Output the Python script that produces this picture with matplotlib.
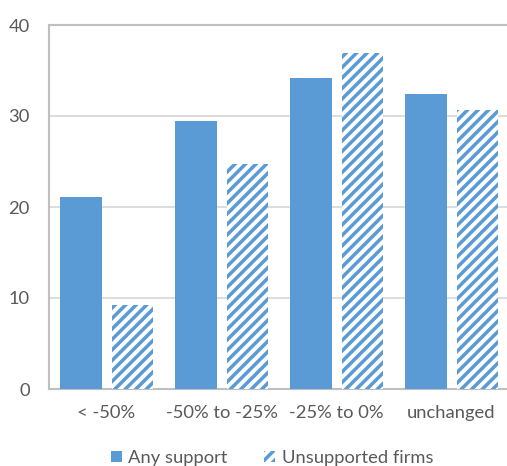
import numpy as np
import matplotlib
matplotlib.use("Agg")
import matplotlib.pyplot as plt
from matplotlib.patches import Patch

categories = ["< -50%", "-50% to -25%", "-25% to 0%", "unchanged"]
any_support = [21.1, 29.5, 34.2, 32.4]
unsupported = [9.2, 24.7, 36.9, 30.7]
yticks = [0, 10, 20, 30, 40]

blue = "#5B9BD5"
grey_text = "#595959"

plt.rcParams.update({
    "font.family": ["Lato", "DejaVu Sans"],
    "hatch.linewidth": 2.0,
})

dpi = 126
fig = plt.figure(figsize=(507 / dpi, 466 / dpi), dpi=dpi)
ax = fig.add_axes([49 / 507, 1 - 389 / 466, 460 / 507, 364 / 466])

x = np.arange(len(categories))
w = 0.365
ax.bar(x - 0.222, any_support, w, color=blue, zorder=3)
ax.bar(x + 0.226, unsupported, w, facecolor="white", edgecolor=blue,
       linewidth=0, hatch="////", zorder=3)

ax.set_xlim(-0.5, 3.5)
ax.set_ylim(0, 40)
ax.set_yticks(yticks)
ax.set_xticks(x)
ax.set_xticklabels(categories)
ax.grid(axis="y", color="#D9D9D9", linewidth=1, zorder=0)
ax.tick_params(length=0, labelsize=10.5, colors=grey_text, pad=11)
ax.tick_params(axis="x", pad=9)
for side in ["top", "left", "bottom", "right"]:
    ax.spines[side].set_color("#BFBFBF")
    ax.spines[side].set_linewidth(1.2)

handles = [Patch(facecolor=blue, label="Any support"),
           Patch(facecolor="white", edgecolor=blue, linewidth=0, hatch="////",
                 label="Unsupported firms")]
leg = fig.legend(handles=handles, loc="center", bbox_to_anchor=(272 / 507, 1 - 458 / 466),
                 ncol=2, frameon=False, fontsize=10.5, handlelength=0.6, handleheight=0.6,
                 handletextpad=0.35, columnspacing=2.0)
for t in leg.get_texts():
    t.set_color(grey_text)

fig.savefig("out.png", dpi=dpi)
